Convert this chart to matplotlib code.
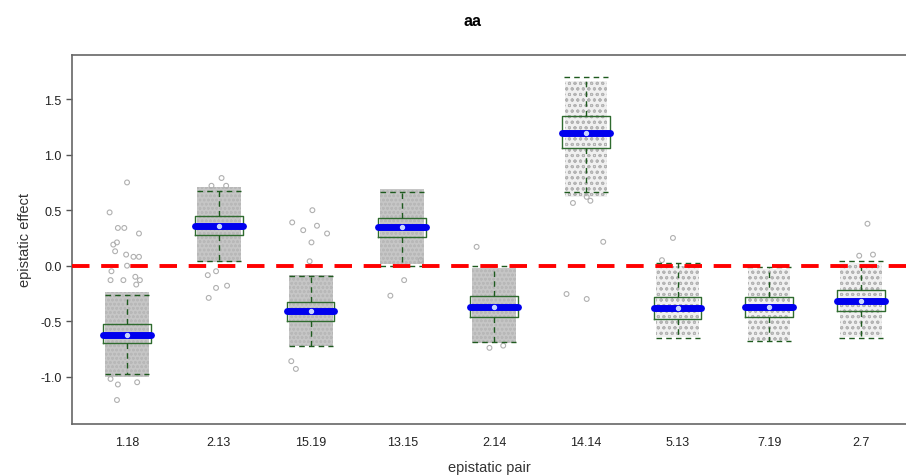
import numpy as np
import matplotlib
matplotlib.use('Agg')
import matplotlib.pyplot as plt

plt.rcParams['font.family'] = ['Liberation Sans', 'DejaVu Sans']
plt.rcParams['hatch.linewidth'] = 0.7

# Groups (epistatic pairs) and box statistics
pairs = ['1.18', '2.13', '15.19', '13.15', '2.14', '14.14', '5.13', '7.19', '2.7']
whisk_lo = [-0.973, 0.040, -0.723, 0.000, -0.690, 0.661, -0.650, -0.680, -0.654]
q1       = [-0.700, 0.274, -0.495, 0.256, -0.459, 1.063, -0.483, -0.465, -0.408]
med      = [-0.624, 0.357, -0.405, 0.349, -0.369, 1.193, -0.378, -0.370, -0.315]
q3       = [-0.528, 0.445, -0.327, 0.427, -0.273, 1.349, -0.285, -0.285, -0.222]
whisk_hi = [-0.264, 0.676, -0.090, 0.667, 0.000, 1.697, 0.020, -0.015, 0.040]

# extent of the jittered point cloud per group
cloud_lo = [-1.00, 0.03, -0.72, 0.015, -0.70, 0.62, -0.64, -0.68, -0.64]
cloud_hi = [-0.24, 0.71, -0.085, 0.69, -0.02, 1.66, 0.00, -0.03, 0.02]
dense    = [True, True, True, True, True, False, False, False, False]

# scattered points outside the clouds: (group index, x offset, value)
out_grp = [0, 0, 0, 0, 0, 0, 0, 0, 0, 0, 0, 0, 0, 0, 0, 0, 0, 0, 0, 0, 0, 0,
           1, 1, 1, 1, 1, 1, 1, 1,
           2, 2, 2, 2, 2, 2, 2, 2, 2,
           3, 3, 3,
           4, 4, 4,
           5, 5, 5, 5, 5, 5,
           6, 6,
           8, 8, 8]
out_dx = [0.00, -0.19, -0.10, -0.03, 0.13, -0.11, -0.15, -0.13, -0.01, 0.07, 0.13, 0.00,
          -0.17, 0.09, -0.04, 0.14, -0.18, 0.10, -0.18, -0.10, 0.11, -0.11,
          0.03, -0.08, 0.08, -0.12, -0.03, 0.09, -0.03, -0.11,
          0.02, -0.20, -0.08, 0.07, 0.18, 0.01, -0.01, -0.21, -0.16,
          -0.13, 0.02, 0.20,
          -0.19, 0.10, -0.05,
          -0.14, 0.05, 0.01, 0.19, -0.21, 0.01,
          -0.05, -0.17,
          0.07, -0.02, 0.13]
out_y = [0.75, 0.48, 0.34, 0.34, 0.29, 0.21, 0.19, 0.13, 0.10, 0.08, 0.08, 0.00,
         -0.05, -0.10, -0.13, -0.13, -0.13, -0.17, -1.02, -1.07, -1.05, -1.21,
         0.79, 0.72, 0.72, -0.085, -0.05, -0.18, -0.20, -0.29,
         0.50, 0.39, 0.32, 0.36, 0.29, 0.21, 0.04, -0.86, -0.93,
         -0.27, -0.13, 0.05,
         0.17, -0.72, -0.74,
         0.565, 0.585, 0.62, 0.215, -0.255, -0.30,
         0.25, 0.05,
         0.378, 0.09, 0.10]

x = np.arange(1, len(pairs) + 1)

fig = plt.figure(figsize=(9.06, 4.77), dpi=100)
ax = fig.add_axes([72 / 906, 1 - 425 / 477, 1 - 72 / 906, (425 - 56) / 477])

# point clouds
for i in range(len(pairs)):
    if dense[i]:
        ax.bar(x[i], cloud_hi[i] - cloud_lo[i], bottom=cloud_lo[i], width=0.48,
               color='#c6c6c6', edgecolor='#b8b8b8', hatch='oooo', linewidth=0, zorder=1)
    else:
        ax.bar(x[i], cloud_hi[i] - cloud_lo[i], bottom=cloud_lo[i], width=0.46,
               color='#f0f0f0', edgecolor='#b4b4b4', hatch='ooo', linewidth=0, zorder=1)

ax.scatter(x[out_grp] + np.array(out_dx), out_y, s=12, facecolors='none',
           edgecolors='#b0b0b0', linewidths=0.8, zorder=2)

# boxes
stats = []
for i in range(len(pairs)):
    stats.append({'whislo': whisk_lo[i], 'q1': q1[i], 'med': med[i],
                  'q3': q3[i], 'whishi': whisk_hi[i], 'fliers': []})
ax.bxp(stats, positions=x, widths=0.52, showfliers=False, patch_artist=False,
       boxprops=dict(color='#2f6b2f', linewidth=1.0),
       whiskerprops=dict(color='#1e5a1e', linewidth=1.0, linestyle=(0, (4, 3))),
       capprops=dict(color='#1e5a1e', linewidth=1.0, linestyle=(0, (4, 3))),
       capwidths=0.48,
       medianprops=dict(color='#0000ee', linewidth=5, solid_capstyle='round'),
       zorder=3)
ax.scatter(x, med, s=8, color='#c8d4ff', zorder=4)

ax.axhline(0, color='#ff0000', linewidth=2.8, linestyle=(0, (4.5, 3)), zorder=5)

ax.set_xlim(0.40, 9.49)
ax.set_ylim(-1.426, 1.898)
ax.set_xticks(x)
ax.set_xticklabels(pairs, fontsize=9, color='#222222')
ax.tick_params(axis='x', length=0, pad=9)
ax.set_yticks([-1.0, -0.5, 0.0, 0.5, 1.0, 1.5])
ax.set_yticklabels(['-1.0', '-0.5', '0.0', '0.5', '1.0', '1.5'])
ax.tick_params(axis='y', length=4, width=1, color='#555555', labelsize=9, labelcolor='#222222')
for s in ['left', 'bottom', 'top']:
    ax.spines[s].set_color('#666666')
    ax.spines[s].set_linewidth(1.2)
ax.spines['right'].set_visible(False)

ax.set_xlabel('epistatic pair', fontsize=10.5, color='#333333', labelpad=8)
ax.set_ylabel('epistatic effect', fontsize=10.5, color='#333333', labelpad=6)
fig.text(473 / 906, 1 - 22 / 477, 'aa', ha='center', va='center',
         fontsize=11.5, fontweight='bold')

fig.savefig('out.png', dpi=100)
